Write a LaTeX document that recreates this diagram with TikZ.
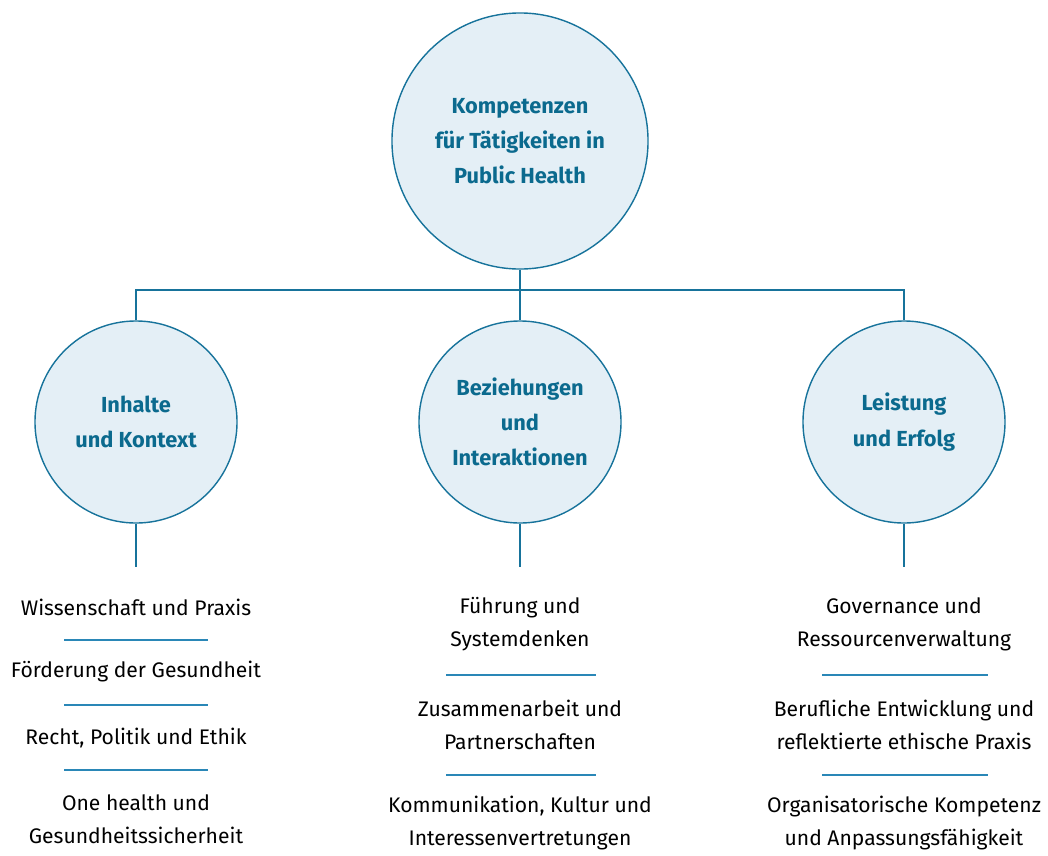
\documentclass[tikz,border=0pt]{standalone}
\usepackage{fontspec}
\setmainfont{Fira Sans}
\definecolor{circfill}{HTML}{E4EFF6}
\definecolor{circline}{HTML}{17739B}
\definecolor{headtext}{HTML}{0B6A8E}
\definecolor{rulecol}{HTML}{2A87B7}

\begin{document}
\begin{tikzpicture}[x=0.025cm, y=-0.025cm,
    topic/.style={shape=circle, draw=circline, line width=1pt, fill=circfill,
      text=headtext, align=center, inner sep=0pt,
      font=\fontsize{15.5}{25}\selectfont\bfseries},
    item/.style={align=center, text=black, inner sep=0pt,
      font=\fontsize{15}{23.7}\selectfont},
    link/.style={draw=circline, line width=0.9pt},
    divider/.style={draw=rulecol, line width=0.9pt}]
  \useasboundingbox (0,0) rectangle (1048,856);

  % circles
  \node[topic, minimum size=6.4cm] at (520,141)
  (root) {Kompetenzen\\für Tätigkeiten in\\Public Health};
  \node[topic, minimum size=5.05cm] at (136,422)
  (inhalt) {Inhalte\\und Kontext};
  \node[topic, minimum size=5.05cm] at (520,422)
  (bezug) {Beziehungen\\und\\Interaktionen};
  \node[topic, minimum size=5.05cm] at (904,422)
  (leist) {Leistung\\und Erfolg};

  % tree lines
  \coordinate (fork) at (520,290);
  \draw[link] (root.south) -- (fork);
  \draw[link] (inhalt.north) |- (fork) -| (leist.north);
  \draw[link] (fork) -- (bezug.north);
  \coordinate (inhalt-end) at (136,567);
  \coordinate (bezug-end) at (520,567);
  \coordinate (leist-end) at (904,567);
  \draw[link] (inhalt.south) -- (inhalt-end);
  \draw[link] (bezug.south) -- (bezug-end);
  \draw[link] (leist.south) -- (leist-end);

  % left column
  \node[item] at (136,607) (i1) {Wissenschaft und Praxis};
  \node[item] at (136,672) (i2) {Förderung der Gesundheit};
  \node[item] at (136,738) (i3) {Recht, Politik und Ethik};
  \node[item] at (136,819) (i4) {One health und\\Gesundheitssicherheit};
  \foreach \y [count=\k] in {640,705,770}
    \draw[divider] (64,\y) coordinate (ia\k) -- (208,\y) coordinate (ib\k);

  % middle column
  \node[item] at (520,624) (b1) {Führung und\\Systemdenken};
  \node[item] at (520,725) (b2) {Zusammenarbeit und\\Partnerschaften};
  \node[item] at (520,823) (b3) {Kommunikation, Kultur und\\Interessenvertretungen};
  \foreach \y [count=\k] in {675,775}
    \draw[divider] (446,\y) coordinate (ba\k) -- (596,\y) coordinate (bb\k);

  % right column
  \node[item] at (904,624) (l1) {Governance und\\Ressourcenverwaltung};
  \node[item] at (904,725) (l2) {Berufliche Entwicklung und\\reflektierte ethische Praxis};
  \node[item] at (904,823) (l3) {Organisatorische Kompetenz\\und Anpassungsfähigkeit};
  \foreach \y [count=\k] in {675,775}
    \draw[divider] (822,\y) coordinate (la\k) -- (988,\y) coordinate (lb\k);
\end{tikzpicture}
\end{document}
